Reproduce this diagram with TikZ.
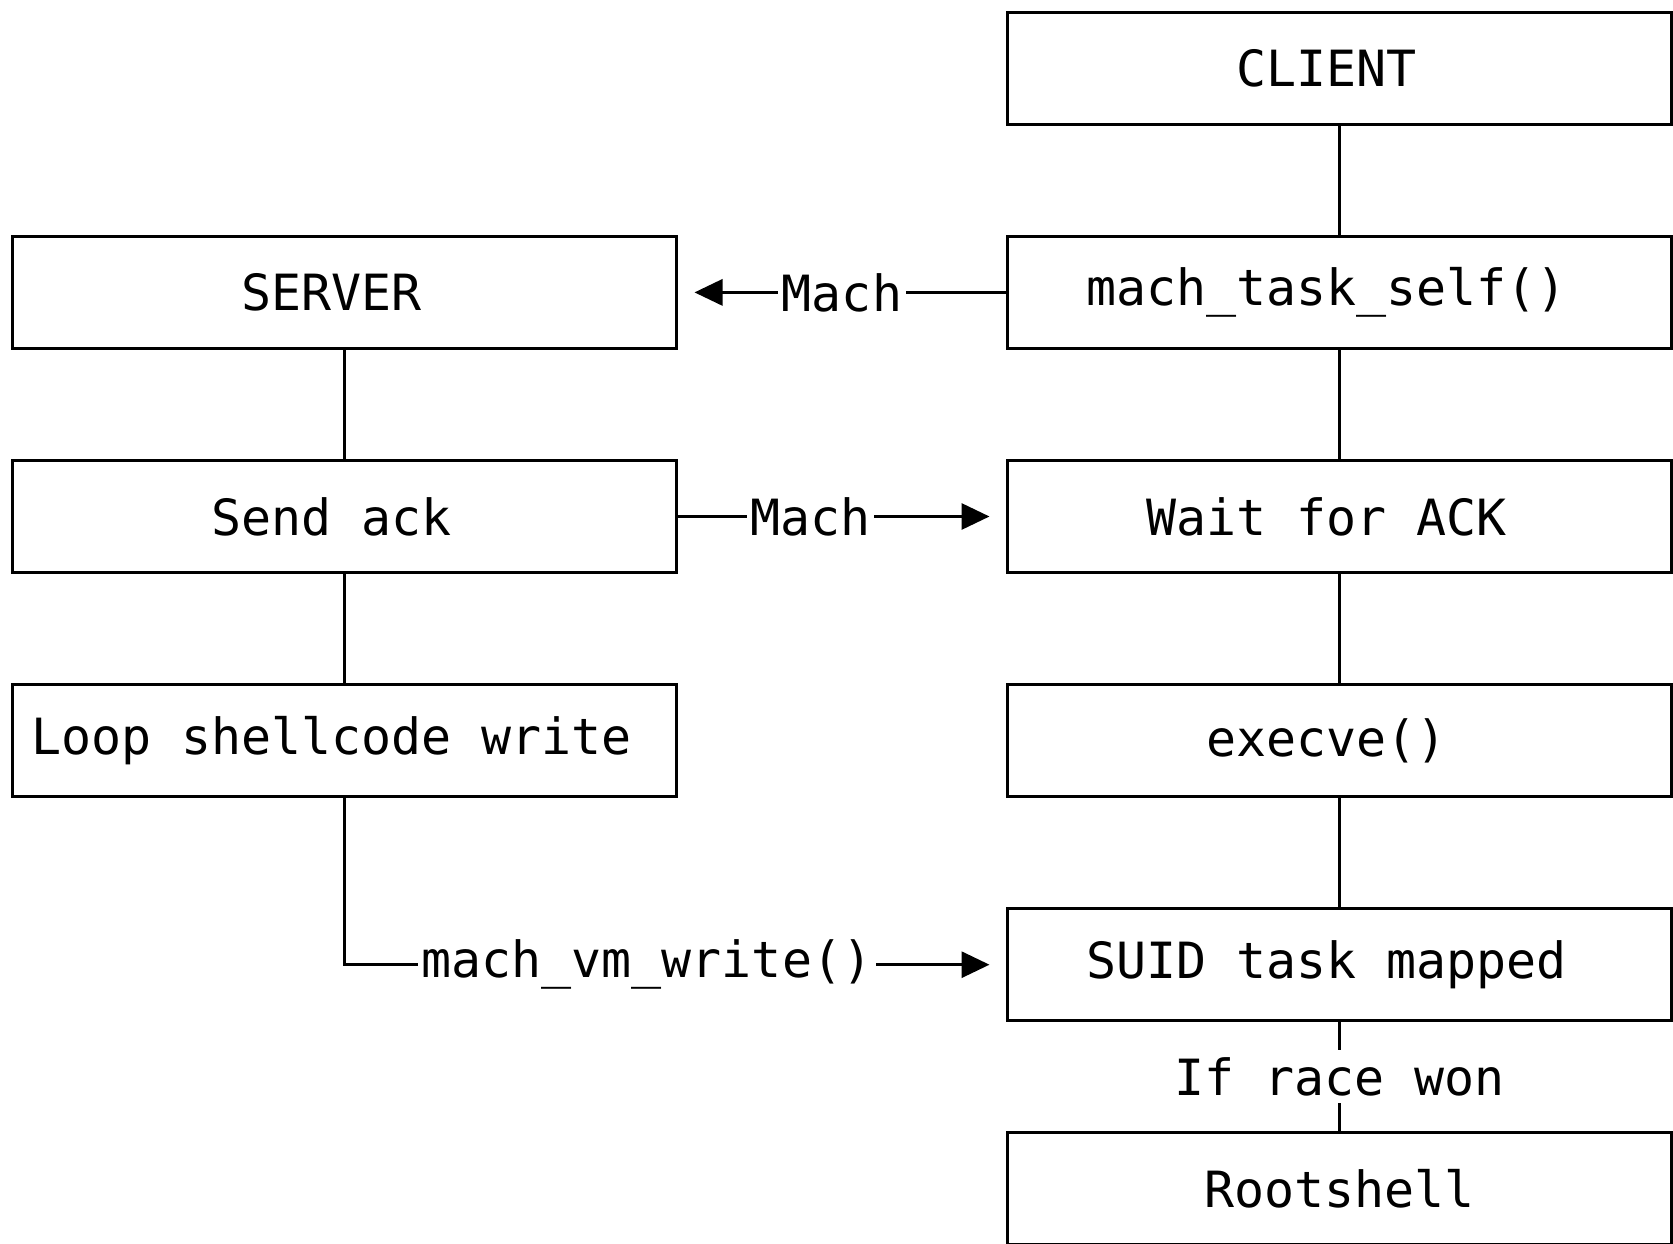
\documentclass[tikz,border=0pt]{standalone}
\usepackage{fontspec}
\setmonofont{DejaVu Sans Mono}
\usetikzlibrary{arrows.meta, positioning}

\begin{document}
\begin{tikzpicture}[
  box/.style={rectangle, draw, line width=0.9pt, outer sep=0pt, minimum height=1.12cm, minimum width=6.64cm, align=center, font=\ttfamily\fontsize{14.2}{17}\selectfont},
  offbox/.style={box, execute at end node={\hspace{0.26cm}}},
  lbl/.style={fill=white, inner xsep=1pt, inner ysep=2pt, font=\ttfamily\fontsize{14.2}{17}\selectfont},
  link/.style={line width=0.9pt},
  msg/.style={link, -{Triangle[length=0.28cm, width=0.26cm]}, shorten >=0.18cm},
  node distance=1.121cm and 3.31cm
]
\useasboundingbox (0,0) rectangle (16.73,-12.44);

\node[offbox] (client) at (13.395,-0.683) {CLIENT};
\node[offbox, below=of client] (taskself) {mach\_task\_self()};
\node[offbox, below=of taskself] (wait) {Wait for ACK};
\node[offbox, below=of wait] (execve) {execve()};
\node[offbox, below=of execve] (suid) {SUID task mapped};
\node[box, below=of suid] (root) {Rootshell};

\node[offbox, left=of taskself] (server) {SERVER};
\node[offbox, below=of server] (ack) {Send ack};
\node[offbox, below=of ack] (loop) {Loop shellcode write};

\draw[link] (client) -- (taskself);
\draw[link] (taskself) -- (wait);
\draw[link] (wait) -- (execve);
\draw[link] (execve) -- (suid);
\draw[link] (suid) -- (root) node[midway, lbl] {If race won};
\draw[link] (server) -- (ack);
\draw[link] (ack) -- (loop);

\draw[msg] (taskself) -- (server) node[pos=0.5, lbl] {Mach};
\draw[msg] (ack) -- (wait) node[pos=0.405, lbl] {Mach};
\draw[msg] (loop) |- (suid) node[pos=0.728, lbl] {mach\_vm\_write()};
\end{tikzpicture}
\end{document}
